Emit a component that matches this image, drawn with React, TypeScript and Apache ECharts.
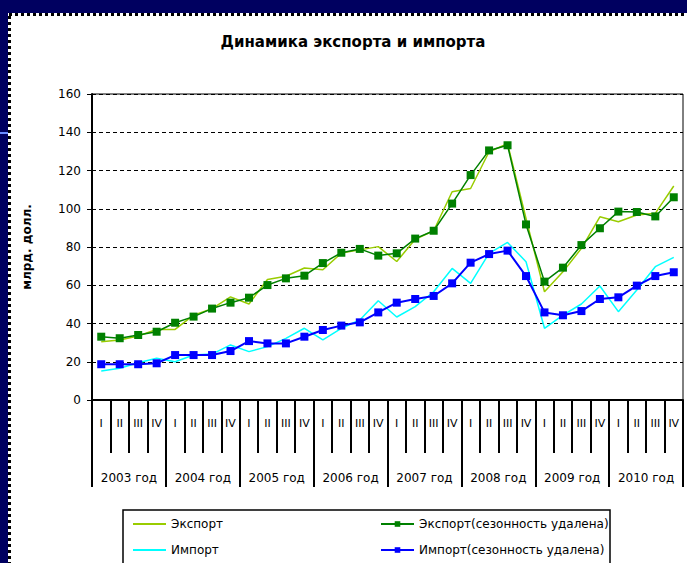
import React, { useEffect, useRef } from "react";
import * as echarts from "echarts";

const quarters = [
  "I", "II", "III", "IV", "I", "II", "III", "IV", "I", "II", "III", "IV", "I", "II", "III", "IV",
  "I", "II", "III", "IV", "I", "II", "III", "IV", "I", "II", "III", "IV", "I", "II", "III", "IV",
];
const years = ["2003 год", "2004 год", "2005 год", "2006 год", "2007 год", "2008 год", "2009 год", "2010 год"];

const exportRaw = [
  30.5, 31.4, 33.5, 36.9,
  36.9, 44.4, 47.8, 53.9,
  50.2, 63.0, 64.7, 69.0,
  68.1, 76.8, 78.5, 80.2,
  72.4, 84.0, 88.5, 108.9,
  110.6, 129.8, 134.0, 95.0,
  56.6, 67.0, 79.3, 95.8,
  93.2, 96.7, 97.6, 111.9,
];
const exportSA = [
  33.1, 32.3, 34.0, 35.7,
  40.4, 43.6, 47.8, 50.9,
  53.5, 60.1, 63.6, 65.0,
  71.6, 77.0, 79.0, 75.5,
  76.7, 84.4, 88.5, 102.7,
  117.6, 130.5, 133.2, 91.8,
  61.9, 69.2, 81.0, 89.8,
  98.5, 98.3, 96.0, 106.0,
];
const importRaw = [
  15.2, 16.6, 19.5, 21.8,
  20.0, 23.5, 24.0, 28.8,
  25.3, 27.9, 32.2, 37.5,
  31.4, 37.5, 41.8, 51.9,
  43.4, 48.8, 56.6, 68.8,
  61.0, 76.7, 82.4, 72.3,
  37.5, 44.4, 50.2, 59.6,
  46.2, 57.5, 69.7, 74.6,
];
const importSA = [
  18.7, 18.7, 18.7, 19.2,
  23.5, 23.5, 23.5, 25.6,
  30.8, 29.6, 29.6, 33.1,
  36.6, 38.9, 40.6, 45.8,
  50.9, 52.8, 54.4, 61.0,
  71.8, 76.3, 78.1, 64.8,
  45.8, 44.3, 46.5, 52.8,
  53.7, 59.8, 64.8, 66.8,
];

const FONT = "DejaVu Sans, sans-serif";

export default function App() {
  const ref = useRef<HTMLDivElement>(null);
  useEffect(() => {
    if (!ref.current) return;
    const chart = echarts.init(ref.current, null, { renderer: "svg" });
    const navy = "#000060";
    const option: any = {
      animation: false,
      backgroundColor: "#ffffff",
      textStyle: { fontFamily: FONT },
      title: {
        text: "Динамика экспорта и импорта",
        left: 353,
        top: 34,
        textAlign: "center",
        padding: 0,
        textStyle: { fontSize: 15, fontWeight: "bold", color: "#000", fontFamily: FONT },
      },
      grid: {
        left: 92,
        right: 4,
        top: 94,
        bottom: 163,
        show: true,
        borderColor: "#000",
        borderWidth: 1,
        backgroundColor: "transparent",
      },
      legend: [
        {
          data: ["Экспорт", "Импорт"],
          orient: "vertical",
          left: 133,
          top: 518,
          padding: 0,
          icon: "rect",
          itemWidth: 33,
          itemHeight: 2,
          itemGap: 14,
          textStyle: { fontSize: 12, color: "#000", fontFamily: FONT },
        },
        {
          data: ["Экспорт(сезонность удалена)", "Импорт(сезонность удалена)"],
          orient: "vertical",
          left: 380,
          top: 518,
          padding: 0,
          itemWidth: 33,
          itemHeight: 7,
          itemGap: 14,
          textStyle: { fontSize: 12, color: "#000", fontFamily: FONT },
        },
      ],
      xAxis: [
        {
          type: "category",
          data: quarters,
          position: "bottom",
          boundaryGap: true,
          axisLine: { show: true, lineStyle: { color: "#000", width: 2 } },
          axisTick: { show: true, interval: 0, length: 53, lineStyle: { color: "#000", width: 2 } },
          axisLabel: { interval: 0, margin: 18, fontSize: 11, color: "#000", fontFamily: FONT },
          splitLine: { show: false },
        },
        {
          type: "category",
          data: years,
          position: "bottom",
          offset: 0,
          boundaryGap: true,
          axisLine: { show: false },
          axisTick: { show: true, interval: 0, length: 87, lineStyle: { color: "#000", width: 2 } },
          axisLabel: { interval: 0, margin: 72, fontSize: 12, color: "#000", fontFamily: FONT },
          splitLine: { show: false },
        },
      ],
      yAxis: {
        type: "value",
        min: 0,
        max: 160,
        interval: 20,
        name: "млрд. долл.",
        nameLocation: "middle",
        nameRotate: 90,
        nameGap: 59,
        nameTextStyle: { fontSize: 12, fontWeight: "bold", color: "#000", fontFamily: FONT },
        axisLine: { show: true, lineStyle: { color: "#000", width: 2 } },
        axisTick: { show: true, length: 5, lineStyle: { color: "#000", width: 1 } },
        axisLabel: { margin: 11, fontSize: 12, color: "#000", fontFamily: FONT },
        splitLine: { show: true, lineStyle: { color: "#000", width: 1.2, type: [4, 3] } },
      },
      series: [
        {
          name: "Экспорт",
          type: "line",
          data: exportRaw,
          symbol: "none",
          lineStyle: { color: "#99cc00", width: 1.5 },
          itemStyle: { color: "#99cc00" },
          z: 2,
        },
        {
          name: "Импорт",
          type: "line",
          data: importRaw,
          symbol: "none",
          lineStyle: { color: "#00ffff", width: 1.5 },
          itemStyle: { color: "#00ffff" },
          z: 2,
        },
        {
          name: "Экспорт(сезонность удалена)",
          type: "line",
          data: exportSA,
          symbol: "rect",
          symbolSize: 8,
          lineStyle: { color: "#008000", width: 1.5 },
          itemStyle: { color: "#008000" },
          z: 3,
        },
        {
          name: "Импорт(сезонность удалена)",
          type: "line",
          data: importSA,
          symbol: "rect",
          symbolSize: 8,
          lineStyle: { color: "#0000ff", width: 2 },
          itemStyle: { color: "#0000ff" },
          z: 3,
        },
      ],
      graphic: [
        { type: "rect", shape: { x: 0, y: 0, width: 687, height: 13 }, style: { fill: navy }, z: 10 },
        { type: "rect", shape: { x: 0, y: 0, width: 8, height: 563 }, style: { fill: navy }, z: 10 },
        {
          type: "line",
          shape: { x1: 9, y1: 14.5, x2: 687, y2: 14.5 },
          style: { stroke: "#000", lineWidth: 3, lineDash: [3, 3] },
          z: 10,
        },
        {
          type: "line",
          shape: { x1: 9.5, y1: 16, x2: 9.5, y2: 563 },
          style: { stroke: "#000", lineWidth: 3, lineDash: [3, 3] },
          z: 10,
        },
        { type: "rect", shape: { x: 0, y: 132, width: 8, height: 2 }, style: { fill: "#6a8cff" }, z: 11 },
        {
          type: "rect",
          shape: { x: 123, y: 510, width: 487, height: 70 },
          style: { fill: "transparent", stroke: "#000", lineWidth: 1.5 },
          z: 1,
        },
      ],
    };
    chart.setOption(option);
    return () => chart.dispose();
  }, []);
  return (
    <div
      ref={ref}
      style={{ position: "fixed", left: 0, top: 0, width: 687, height: 563, background: "#fff" }}
    />
  );
}
